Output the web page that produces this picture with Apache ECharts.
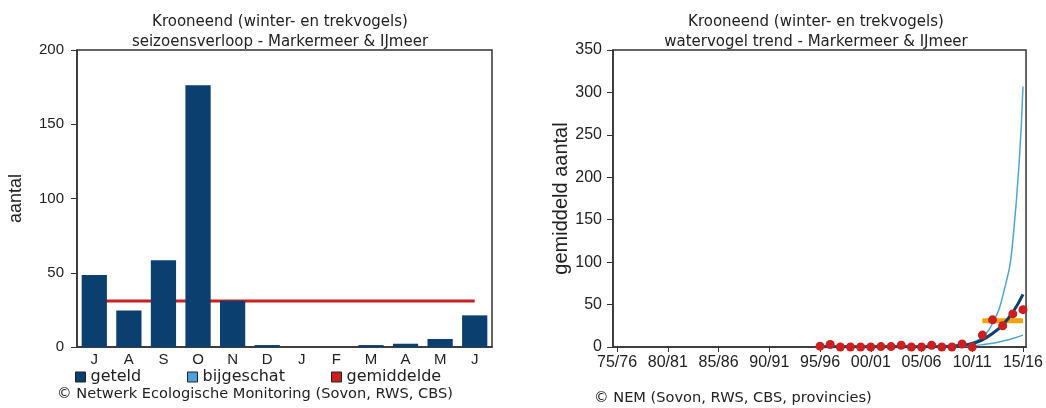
<!DOCTYPE html>
<html>
<head>
<meta charset="utf-8">
<script src="https://cdn.jsdelivr.net/npm/echarts@6/dist/echarts.min.js"></script>
<style>
html, body { margin: 0; padding: 0; background: #fff; }
#chart { width: 1046px; height: 408px; }
</style>
</head>
<body>
<div id="chart"></div>
<script>
// seizoensverloop (links)
const months = ['J', 'A', 'S', 'O', 'N', 'D', 'J', 'F', 'M', 'A', 'M', 'J']
const counted = [48.5, 24.5, 58.4, 176.2, 31.2, 1.3, 0, 0, 1.3, 2.2, 5.4, 21.3]
const estimated = [] // bijgeschat: niets
const seasonMean = 31
const seasonTicks = [0, 50, 100, 150, 200]

// watervogel trend (rechts)
const seasons = [1995, 1996, 1997, 1998, 1999, 2000, 2001, 2002, 2003, 2004, 2005,
  2006, 2007, 2008, 2009, 2010, 2011, 2012, 2013, 2014, 2015]
const indexValues = [1, 3, 0, 0, 0, 0, 0.5, 0.5, 2, 0, 0, 2, 0, 0, 3.5, 0, 14, 32, 25, 39, 44]
const trendValues = [0.3, 0.3, 0.3, 0.3, 0.3, 0.3, 0.3, 0.3, 0.3, 0.3, 0.3, 0.3, 0.5, 1, 2, 4, 8.5, 16, 26, 41, 62]
const upperValues = [1, 1, 1, 1, 1, 1, 1, 1, 1, 1, 1, 1, 1.5, 2, 3, 5.5, 12, 28, 60, 125, 307]
const lowerValues = [0, 0, 0, 0, 0, 0, 0, 0, 0, 0, 0, 0, 0, 0.3, 0.8, 1.5, 2.7, 4.3, 7, 10, 14]
const recentYears = [2011, 2015]
const recentMean = 31
const trendTickYears = [1975, 1980, 1985, 1990, 1995, 2000, 2005, 2010, 2015]
const trendTicks = [0, 50, 100, 150, 200, 250, 300, 350]

const chart = echarts.init(document.getElementById('chart'))

const titleStyle = { fontFamily: 'DejaVu Sans', fontSize: 15, fontWeight: 'normal', color: '#222', lineHeight: 20 }
const tickFont = { fontFamily: 'Liberation Sans', color: '#222' }
const axisColor = '#333'
const legendText = { fontFamily: 'DejaVu Sans', fontSize: 16, color: '#222' }
const creditText = { fontFamily: 'DejaVu Sans', fontSize: 14.6, fontWeight: 'normal', color: '#222' }

function yy(y) {
  const a = String(y % 100).padStart(2, '0')
  const b = String((y + 1) % 100).padStart(2, '0')
  return a + '/' + b
}

const option = {
  animation: false,
  title: [
    { text: 'Krooneend (winter- en trekvogels)\nseizoensverloop - Markermeer & IJmeer', left: 275, top: 7, textAlign: 'center', textStyle: titleStyle },
    { text: 'Krooneend (winter- en trekvogels)\nwatervogel trend - Markermeer & IJmeer', left: 811, top: 7, textAlign: 'center', textStyle: titleStyle },
    { text: '© Netwerk Ecologische Monitoring (Sovon, RWS, CBS)', left: 57, top: 387, padding: 0, textStyle: creditText },
    { text: '© NEM (Sovon, RWS, CBS, provincies)', left: 594, top: 391, padding: 0, textStyle: creditText }
  ],
  legend: [
    { left: 75, top: 369, padding: 0, itemWidth: 10, itemHeight: 10, icon: 'rect', data: ['geteld'], textStyle: legendText, itemStyle: { borderColor: '#222', borderWidth: 1 } },
    { left: 187, top: 369, padding: 0, itemWidth: 10, itemHeight: 10, icon: 'rect', data: ['bijgeschat'], textStyle: legendText, itemStyle: { borderColor: '#222', borderWidth: 1 } },
    { left: 331, top: 369, padding: 0, itemWidth: 10, itemHeight: 10, icon: 'rect', data: ['gemiddelde'], textStyle: legendText, itemStyle: { borderColor: '#222', borderWidth: 1 } }
  ],
  grid: [
    { left: 77, top: 50, width: 415, height: 297, show: true, borderColor: axisColor, borderWidth: 1.5 },
    { left: 613, top: 50, width: 415, height: 297, show: true, borderColor: axisColor, borderWidth: 1.5 }
  ],
  xAxis: [
    {
      gridIndex: 0,
      type: 'category',
      data: months,
      axisLine: { lineStyle: { color: axisColor, width: 1.5 } },
      axisTick: { length: 4, lineStyle: { color: axisColor } },
      axisLabel: { ...tickFont, fontSize: 15, margin: 5 }
    },
    {
      gridIndex: 1,
      type: 'value',
      min: 1974.6,
      max: 2015.3,
      splitLine: { show: false },
      axisLine: { lineStyle: { color: axisColor, width: 1.5 } },
      axisTick: { length: 5, lineStyle: { color: axisColor }, customValues: trendTickYears },
      axisLabel: { ...tickFont, fontSize: 16, margin: 8, customValues: trendTickYears, formatter: yy }
    }
  ],
  yAxis: [
    {
      gridIndex: 0,
      type: 'value',
      min: seasonTicks[0],
      max: seasonTicks[seasonTicks.length - 1],
      interval: seasonTicks[1] - seasonTicks[0],
      name: 'aantal',
      nameLocation: 'middle',
      nameGap: 52,
      nameTextStyle: { fontFamily: 'Liberation Sans', fontSize: 18, color: '#222' },
      splitLine: { show: false },
      axisLine: { show: true, lineStyle: { color: axisColor, width: 1.5 } },
      axisTick: { show: true, length: 6, lineStyle: { color: axisColor } },
      axisLabel: { ...tickFont, fontSize: 15, margin: 13 }
    },
    {
      gridIndex: 1,
      type: 'value',
      min: trendTicks[0],
      max: trendTicks[trendTicks.length - 1],
      interval: trendTicks[1] - trendTicks[0],
      name: 'gemiddeld aantal',
      nameLocation: 'middle',
      nameGap: 38,
      nameTextStyle: { fontFamily: 'Liberation Sans', fontSize: 20, color: '#222' },
      splitLine: { show: false },
      axisLine: { show: true, lineStyle: { color: axisColor, width: 1.5 } },
      axisTick: { show: true, length: 6, lineStyle: { color: axisColor } },
      axisLabel: { ...tickFont, fontSize: 16, margin: 11 }
    }
  ],
  series: [
    {
      name: 'gemiddelde',
      type: 'line',
      xAxisIndex: 0,
      yAxisIndex: 0,
      z: 1,
      data: months.map(() => seasonMean),
      symbol: 'none',
      color: '#cc1f1f',
      lineStyle: { color: '#cc1f1f', width: 3 }
    },
    {
      name: 'geteld',
      type: 'bar',
      xAxisIndex: 0,
      yAxisIndex: 0,
      z: 3,
      stack: 'maand',
      data: counted,
      barCategoryGap: '27%',
      itemStyle: { color: '#0b3f6f' }
    },
    {
      name: 'bijgeschat',
      type: 'bar',
      xAxisIndex: 0,
      yAxisIndex: 0,
      z: 3,
      stack: 'maand',
      data: estimated,
      itemStyle: { color: '#4d9fdb' }
    },
    {
      name: 'bovengrens',
      type: 'line',
      xAxisIndex: 1,
      yAxisIndex: 1,
      data: seasons.map((s, i) => [s, upperValues[i]]),
      smooth: true,
      symbol: 'none',
      lineStyle: { color: '#4ea6d0', width: 1.5 },
      z: 2
    },
    {
      name: 'ondergrens',
      type: 'line',
      xAxisIndex: 1,
      yAxisIndex: 1,
      data: seasons.map((s, i) => [s, lowerValues[i]]),
      smooth: true,
      symbol: 'none',
      lineStyle: { color: '#4ea6d0', width: 1.5 },
      z: 2
    },
    {
      name: 'recent gemiddelde',
      type: 'line',
      xAxisIndex: 1,
      yAxisIndex: 1,
      data: recentYears.map(y => [y, recentMean]),
      symbol: 'none',
      lineStyle: { color: '#f5a300', width: 5 },
      z: 3
    },
    {
      name: 'trend',
      type: 'line',
      xAxisIndex: 1,
      yAxisIndex: 1,
      data: seasons.map((s, i) => [s, trendValues[i]]),
      smooth: true,
      symbol: 'none',
      lineStyle: { color: '#0b3f6f', width: 3 },
      z: 4
    },
    {
      name: 'index',
      type: 'scatter',
      xAxisIndex: 1,
      yAxisIndex: 1,
      data: seasons.map((s, i) => [s, indexValues[i]]),
      symbolSize: 9,
      itemStyle: { color: '#cc1f1f', opacity: 1 },
      z: 5
    }
  ]
}

chart.setOption(option)
</script>
</body>
</html>
